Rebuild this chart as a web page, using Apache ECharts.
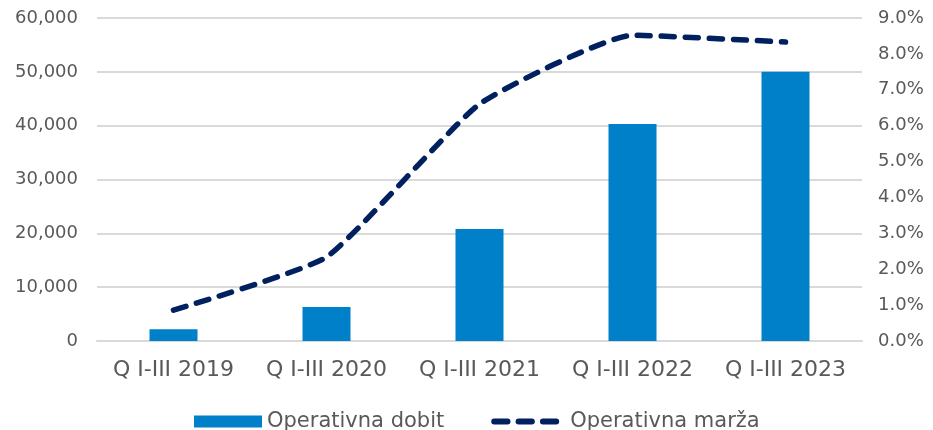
<!DOCTYPE html>
<html>
<head>
<meta charset="utf-8">
<script src="https://cdn.jsdelivr.net/npm/echarts@6/dist/echarts.min.js"></script>
<style>html,body{margin:0;padding:0;background:#fff}#c{width:933px;height:430px}</style>
</head>
<body>
<div id="c"></div>
<script>
const categories = ['Q I-III 2019', 'Q I-III 2020', 'Q I-III 2021', 'Q I-III 2022', 'Q I-III 2023'];
const operativnaDobit = [2200, 6300, 20800, 40300, 50000];
const operativnaMarza = [0.86, 2.34, 6.6, 8.52, 8.33];
const seriesNames = ['Operativna dobit', 'Operativna marža'];

const font = '"DejaVu Sans", Verdana, sans-serif';
const txt = '#595959';
const pill = x => 'M' + (x + 3) + ',0h13a3,3 0 0 1 0,6h-13a3,3 0 0 1 0,-6z';
const dashIcon = 'path://' + pill(0) + pill(24) + pill(48);
const chart = echarts.init(document.getElementById('c'));
chart.setOption({
  animation: false,
  grid: { left: 97, right: 71, top: 18, bottom: 89, containLabel: false },
  legend: {
    bottom: -2, left: 194, padding: 0,
    itemWidth: 68, itemHeight: 12, itemGap: 47,
    textStyle: { fontFamily: font, fontSize: 21, color: txt },
    data: [
      { name: seriesNames[0], icon: 'rect' },
      { name: seriesNames[1], icon: dashIcon, itemStyle: { color: '#002060' },
        textStyle: { padding: [0, 0, 0, 6] } }
    ]
  },
  xAxis: {
    type: 'category', data: categories,
    axisLine: { show: true, lineStyle: { color: '#d9d9d9', width: 2 } },
    axisTick: { show: false },
    axisLabel: { fontFamily: font, fontSize: 22, color: txt, margin: 18, interval: 0 }
  },
  yAxis: [
    {
      type: 'value', min: 0, max: 60000, interval: 10000,
      axisLine: { show: false }, axisTick: { show: false },
      splitLine: { lineStyle: { color: '#d9d9d9', width: 2 } },
      axisLabel: { fontFamily: font, fontSize: 18, color: txt, margin: 19,
        formatter: v => v.toLocaleString('en-US') }
    },
    {
      type: 'value', min: 0, max: 9, interval: 1,
      axisLine: { show: false }, axisTick: { show: false }, splitLine: { show: false },
      axisLabel: { fontFamily: font, fontSize: 18, color: txt, margin: 16,
        formatter: v => v.toFixed(1) + '%' }
    }
  ],
  series: [
    {
      name: seriesNames[0], type: 'bar', data: operativnaDobit, barWidth: 48,
      itemStyle: { color: '#0080C8' }
    },
    {
      name: seriesNames[1], type: 'line', yAxisIndex: 1, data: operativnaMarza,
      smooth: 0.15, symbol: 'none',
      lineStyle: { color: '#002060', width: 5.5, type: [13, 11], cap: 'round' },
      itemStyle: { color: '#002060' }
    }
  ]
});
</script>
</body>
</html>
